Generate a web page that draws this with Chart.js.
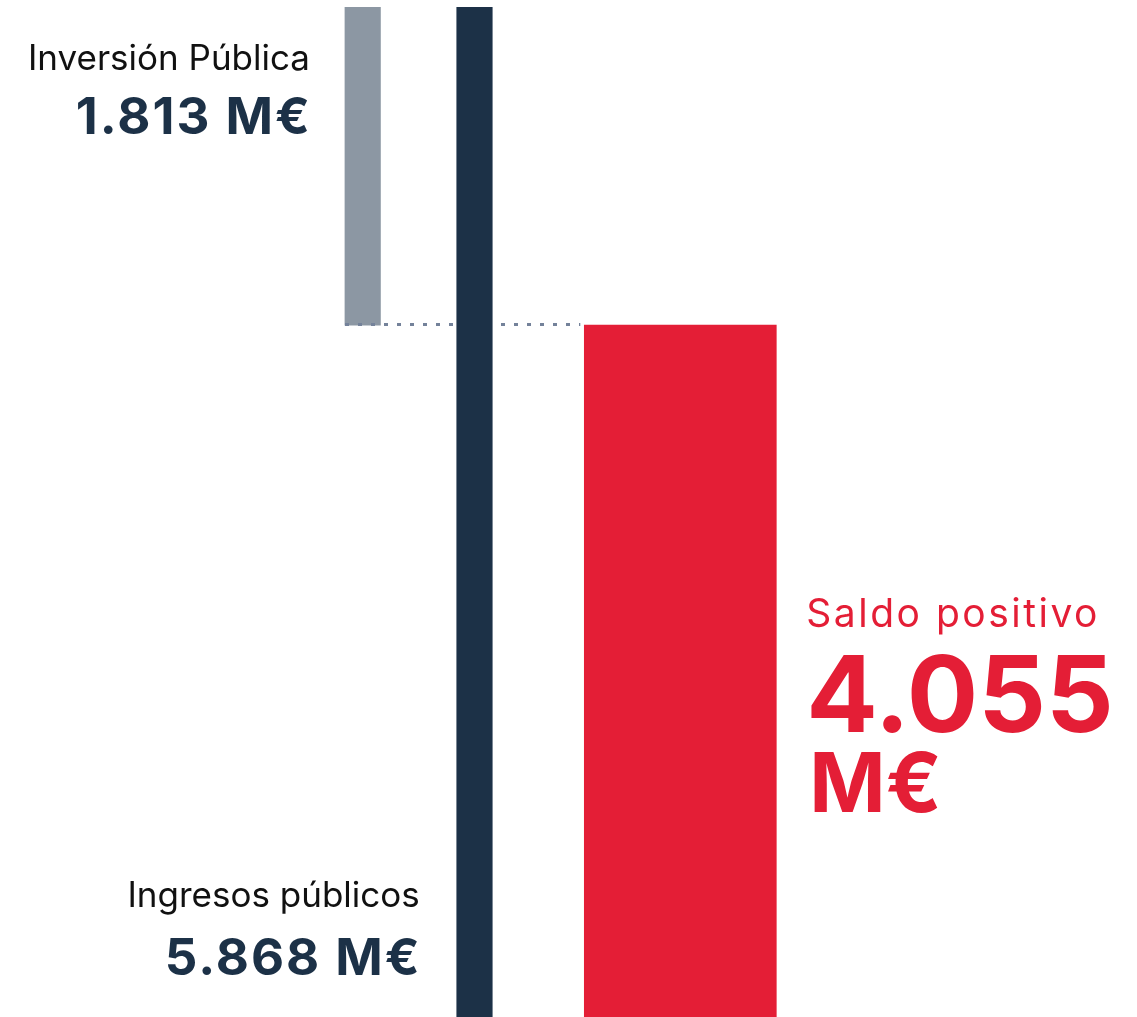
<!DOCTYPE html>
<html>
<head>
<meta charset="utf-8">
<script src="https://cdn.jsdelivr.net/npm/chart.js@4"></script>
<style>
  html, body { margin: 0; padding: 0; background: #ffffff; overflow: hidden; }
  #frame { width: 1137px; height: 1017px; overflow: hidden; position: relative; }
  #box { width: 1137px; height: 1036px; }
</style>
</head>
<body>
<div id="frame"><div id="box"><canvas id="c" width="1137" height="1036"></canvas></div></div>
<script>
// ---- data ----
const categories = ['Inversión Pública', 'Ingresos públicos', 'Saldo positivo'];
const values = [1813, 5868, 4055];           // M€
const unit = 'M€';

// ---- layout / style (not data) ----
const barCenters = [362.7, 474.5, 680.3];     // x-scale units
const barWidths = [35.5, 35.5, 192];
const colors = ['#8C97A3', '#1C3147', '#E41E36'];
const drawOrder = [3, 2, 1];                  // gray first, then navy, then red
const fontFamily = 'Inter, "Noto Sans", sans-serif';

function fmt(v) {
  const s = String(Math.round(v));
  return s.replace(/\B(?=(\d{3})+(?!\d))/g, '.');
}

const inversion = values[0], ingresos = values[1], saldo = values[2];
const ranges = [
  [saldo, ingresos],   // inversión floats on top of saldo
  [0, ingresos],
  [0, saldo]
];

const datasets = categories.map((name, i) => ({
  label: name,
  data: [{ x: barCenters[i], y: ranges[i] }],
  backgroundColor: colors[i],
  borderWidth: 0,
  barThickness: barWidths[i],
  grouped: false,
  order: drawOrder[i]
}));

// dotted connector: drawn right after the gray bar, so the navy bar covers it
const dottedLine = {
  id: 'dottedLine',
  afterDatasetDraw(chart, args) {
    if (args.index !== 0) return;
    const ctx = chart.ctx;
    const ys = chart.scales.y;
    const g = chart.getDatasetMeta(0).data[0];
    const r = chart.getDatasetMeta(2).data[0];
    const y = Math.round(ys.getPixelForValue(saldo)) - 0.5;
    ctx.save();
    ctx.strokeStyle = '#74829A';
    ctx.lineWidth = 3;
    ctx.setLineDash([4, 9]);
    ctx.beginPath();
    ctx.moveTo(Math.round(g.x - g.width / 2), y);
    ctx.lineTo(r.x - r.width / 2 - 4, y);
    ctx.stroke();
    ctx.restore();
  }
};

function text(ctx, s, x, y, font, color, align, spacing) {
  ctx.font = font;
  ctx.fillStyle = color;
  ctx.letterSpacing = (spacing || 0) + 'px';
  ctx.textAlign = align;
  const dx = (align === 'right') ? (spacing || 0) : 0;
  ctx.fillText(s, x + dx, y);
}

const labels = {
  id: 'labels',
  afterDatasetsDraw(chart) {
    const ctx = chart.ctx;
    const g = chart.getDatasetMeta(0).data[0];
    const n = chart.getDatasetMeta(1).data[0];
    const r = chart.getDatasetMeta(2).data[0];
    ctx.save();
    ctx.textBaseline = 'alphabetic';

    // Inversión Pública
    let xr = g.x - g.width / 2 - 35;
    text(ctx, categories[0], xr, g.y + 63, '400 35px ' + fontFamily, '#111111', 'right', 0);
    text(ctx, fmt(inversion) + ' ' + unit, xr, g.y + 127, '700 51px ' + fontFamily, '#1C3147', 'right', 2);

    // Ingresos públicos
    xr = n.x - n.width / 2 - 37;
    text(ctx, categories[1], xr, 907, '400 35px ' + fontFamily, '#111111', 'right', 0);
    text(ctx, fmt(ingresos) + ' ' + unit, xr, 975, '700 51px ' + fontFamily, '#1C3147', 'right', 2);

    // Saldo positivo
    const xl = r.x + r.width / 2 + 30;
    text(ctx, categories[2], xl, 627, '400 39px ' + fontFamily, '#E41E36', 'left', 2.5);
    text(ctx, fmt(saldo), xl, 732, '700 106px ' + fontFamily, '#E41E36', 'left', 0);
    text(ctx, unit, xl + 3, 812, '700 82px ' + fontFamily, '#E41E36', 'left', 0);
    ctx.restore();
  }
};

new Chart(document.getElementById('c'), {
  type: 'bar',
  data: { datasets },
  options: {
    responsive: false,
    animation: false,
    layout: { padding: 0 },
    plugins: { legend: { display: false }, tooltip: { enabled: false } },
    scales: {
      x: { type: 'linear', min: 0, max: 1137, offset: false, display: false },
      y: { type: 'linear', min: 0, max: 5910, display: false }
    }
  },
  plugins: [dottedLine, labels]
});
</script>
</body>
</html>
